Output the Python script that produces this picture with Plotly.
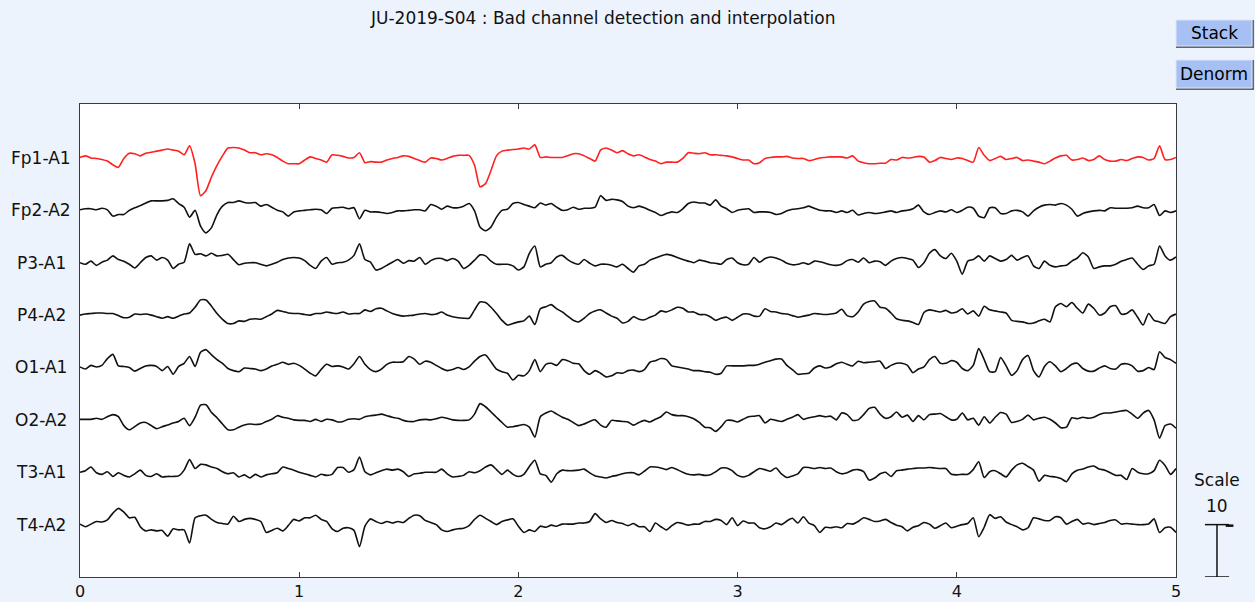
import numpy as np
import plotly.graph_objects as go

# ---- recording: 5 s of 8 referential EEG channels, 40 samples per second ----
channels = ["Fp1-A1", "Fp2-A2", "P3-A1", "P4-A2", "O1-A1", "O2-A2", "T3-A1", "T4-A2"]
bad_channel = "Fp1-A1"
time_s = np.linspace(0.0, 5.0, 201)
x_ticks = [0, 1, 2, 3, 4, 5]
scale_value = 10

fp1_a1 = [
    0.1, 0.4, 0.0, -0.1, -0.3, -0.6, -1.3, -1.8, -0.1, 0.9,
    0.8, 0.4, 0.9, 1.1, 1.3, 1.5, 1.7, 1.5, 1.3, 0.6,
    2.3, -1.1, -7.2, -6.2, -3.6, -1.4, 0.4, 1.9, 2.0, 1.9,
    1.5, 1.0, 1.0, 0.6, 0.8, 0.6, 0.1, -0.6, -1.1, -1.1,
    -1.1, -0.4, 0.2, -0.1, -0.4, -0.8, 0.6, 0.5, 0.3,
    0.0, 0.1, 1.0, -0.9, -0.7, -0.8, -0.8, -0.4, -0.1, 0.1,
    0.4, 0.3, -0.1, -0.5, -0.8, 0.0, -0.1, -0.4, -0.1, 0.3,
    0.5, 0.5, 0.5, -1.4, -5.5, -4.9, -2.4, 0.4, 1.3, 1.5,
    1.6, 1.7, 1.9, 1.7, 2.5, 0.1, 0.2, 0.1, 0.1, 0.1,
    0.4, 0.8, 0.8, 0.4, -0.1, -0.6, 1.5, 1.9, 1.5,
    1.0, 1.4, 0.8, 0.4, 0.6, 0.2, -0.3, -0.6, -1.1, -0.8,
    -0.8, -0.8, -0.1, 1.0, 0.9, 0.8, 1.0, 0.6, 0.6, 0.5,
    0.4, 0.2, -0.1, -0.4, -0.4, -1.1, -0.9, -0.1, 0.1, 0.2,
    0.2, 0.3, 0.0, -0.1, -0.1, -0.5, -0.3, 0.0, 0.1, 0.2,
    0.2, 0.2, 0.0, 0.4, -0.6, -0.9, -1.1, -1.1, -1.0,
    -1.0, -0.3, -0.4, 0.1, 0.0, 0.1, 0.3, 0.2, -0.8, -0.5,
    0.1, -0.1, -0.3, 0.0, -0.1, -0.5, -0.8, 2.0, 0.5, -0.5,
    -0.1, 0.3, -0.3, -0.1, 0.1, -0.5, -0.4, -0.6, -0.8, -1.1,
    -0.6, 0.0, 0.4, 0.5, -0.4, -0.3, 0.0, -0.5, -0.3, 0.4,
    -0.3, -0.6, -0.6, -0.3, -0.5, -0.1, 0.2, 0.1, -0.4, -0.1,
    2.3, -0.3, -0.3, 0.1,
]

fp2_a2 = [
    0.1, 0.3, 0.3, 0.1, 0.4, 0.1, -1.1, -0.8, -0.8, 0.0,
    0.5, 0.9, 1.4, 1.8, 1.8, 1.8, 1.9, 2.2, 1.3, 0.6,
    -1.3, 0.0, -3.0, -4.3, -3.3, -0.8, 0.8, 1.5, 1.5, 1.8,
    1.5, 1.4, 1.5, 0.8, 1.1, 0.6, 0.0, -0.3, -1.1, -0.3,
    -0.1, 0.0, 0.1, 0.2, 0.1, -0.6, 0.4, 0.5, 0.6,
    0.3, 0.5, -1.6, 0.0, -0.3, -0.3, -0.4, -0.6, -0.4, -0.1,
    -0.1, 0.0, 0.1, 0.1, -0.1, 1.1, 0.8, 0.2, 0.8, 0.5,
    0.5, 0.8, 1.3, -0.1, -3.2, -3.9, -3.2, -1.3, 0.0, 0.2,
    1.3, 1.5, 1.1, 0.8, 0.5, 1.4, 1.0, 1.3, 0.6, 0.0,
    0.1, 0.6, 0.2, 0.4, 0.4, 0.6, 2.8, 1.9, 2.1,
    2.0, 1.7, 0.8, 0.5, 0.8, 0.5, 0.0, -0.4, -1.0, -0.6,
    -0.3, -0.4, 0.3, 1.3, 1.6, 1.4, 1.4, 1.0, 2.0, 0.8,
    0.3, -0.4, 0.0, 0.2, 0.3, -0.4, -0.3, -0.3, -0.4, -0.8,
    -0.6, -0.1, 0.2, 0.3, 0.5, 0.8, 0.4, 0.0, -0.1, -0.1,
    -0.4, -0.1, -0.4, 0.0, -0.9, -0.6, -0.4, -0.6, -0.5,
    -0.3, -0.1, -0.4, -0.1, 0.0, 0.3, 1.0, -0.3, -0.8, -0.4,
    -0.1, -0.3, 0.1, -0.4, 0.0, 0.6, 0.4, -1.1, -1.4, 0.5,
    0.5, -0.6, -0.6, -0.1, 0.0, -0.3, -1.1, -0.1, 0.6, 1.0,
    1.1, 1.0, 1.3, 1.0, 0.2, -1.1, -0.6, -0.3, -0.1, 0.0,
    -0.1, 0.5, 0.4, 0.4, 0.4, 0.5, 0.8, 0.5, 0.5, 1.1,
    -1.0, -0.1, -0.4, -0.1,
]

p3_a1 = [
    0.0, -0.3, 0.3, -0.5, 0.1, 0.5, 1.3, 0.6, 0.3, -0.3,
    -1.0, 0.0, 1.0, 1.3, 0.5, 1.0, 0.5, -1.1, -0.3, 0.1,
    3.6, 1.6, 1.7, 1.3, 1.8, 1.3, 1.4, 1.6, 0.6, -0.4,
    -0.1, 0.0, 0.0, -0.3, -0.6, -0.3, 0.1, 0.6, 0.9, 1.0,
    0.9, 0.4, -0.5, -1.1, 0.3, 1.0, -0.3, 0.0, 0.1,
    0.5, 1.4, 3.6, 0.6, 0.1, -1.4, -1.1, -0.5, 0.1, 0.6,
    -0.1, 0.4, 0.3, 1.0, -0.3, 0.4, 0.8, 0.8, 0.4, 0.8,
    0.3, -1.1, -0.5, 0.5, 1.5, 1.3, 0.3, -0.3, -0.3, -0.3,
    -0.6, -1.4, -0.8, 1.8, 3.2, -0.8, -0.3, 0.0, 1.1, 1.4,
    0.6, 0.0, -0.3, 0.6, -0.1, -0.6, -0.3, -0.3, -0.5,
    -0.8, -0.3, -1.1, -1.8, -0.6, -0.3, 0.5, 0.9, 1.3, 1.6,
    1.4, 1.0, 0.6, 0.3, 0.0, 0.5, 0.3, 0.0, -0.1, -0.3,
    0.6, 0.9, 0.0, -0.4, -0.3, 1.0, 0.1, 0.8, 1.1, 0.9,
    0.5, -0.1, -0.4, -0.3, 0.0, -0.3, 0.3, 0.2, -0.1, -0.4,
    -0.5, -0.3, 0.4, 0.6, 0.1, 0.9, 0.0, 0.3, 0.2,
    -0.5, 0.3, 0.8, 1.0, 0.8, 0.5, -0.9, 0.0, 1.8, 2.5,
    1.3, 0.8, 1.8, 0.3, -2.2, 0.3, 0.6, 1.3, 0.3, 1.3,
    0.8, 0.3, 0.6, 1.4, 0.5, 1.0, 1.3, -0.6, -1.1, 0.3,
    -0.5, -0.8, -0.6, -0.5, 0.3, 0.9, 1.9, 1.1, -1.1, -0.8,
    -0.6, -0.6, -0.3, 0.3, 0.6, 0.9, -0.3, -1.3, -0.6, -0.3,
    3.2, 1.3, 0.5, 1.1,
]

p4_a2 = [
    0.0, 0.2, 0.3, 0.4, 0.4, 0.3, 0.3, -0.1, -0.5, -0.4,
    0.2, 0.1, 0.2, 0.0, -0.3, -0.6, -0.3, -0.6, -0.2, 0.2,
    0.4, 1.5, 2.9, 2.9, 1.7, 0.3, -0.8, -1.6, -1.6, -1.1,
    -1.2, -0.8, -0.7, -0.8, -0.3, 0.2, 0.9, 0.7, 0.4, 0.3,
    0.3, 0.1, 0.0, 0.3, 0.3, 0.6, 0.4, 0.3, 0.6,
    0.2, 0.3, 0.3, 1.0, 0.7, 1.2, 1.3, 0.8, 0.3, 0.0,
    -0.2, -0.1, 0.0, 0.2, 0.3, 0.1, 0.2, 0.6, 0.0, -0.3,
    -0.5, -0.6, -0.6, 1.0, 2.5, 2.4, 1.5, 0.3, -1.0, -1.9,
    -1.6, -1.3, -1.1, -0.2, -1.8, 1.2, 1.6, 2.0, 1.2, 0.6,
    -0.2, -1.0, -1.3, -0.6, 0.3, 0.8, 1.0, 0.4, -0.2,
    -0.6, -1.5, -1.2, -0.3, -0.8, -0.9, -0.4, 0.0, 0.8, 0.6,
    1.0, 1.5, 1.3, 0.6, 0.6, 0.1, 0.1, -0.3, -1.0, -0.6,
    -0.4, -1.0, -0.4, 0.2, 0.2, -0.2, -0.2, 1.2, 0.7, 0.6,
    0.3, 0.2, -0.1, -0.4, -0.2, 0.0, 0.3, 0.2, 0.1, 0.2,
    0.4, 1.1, -0.1, -0.3, 0.6, 2.1, 2.6, 2.7, 1.5,
    1.3, 0.4, -0.7, -1.0, -1.1, -1.4, -1.8, 0.5, 1.0, 0.8,
    0.6, 0.9, 0.4, 0.6, 1.2, 0.2, 0.8, -0.2, 1.7, 1.0,
    0.8, 0.6, 0.4, -1.0, -1.2, -1.3, -1.6, -1.5, -1.1, -0.8,
    -1.3, 1.6, 2.2, 1.6, 2.4, 1.3, 0.4, 2.1, 1.3, 0.0,
    0.4, 1.6, 1.8, 0.2, 0.3, 1.0, -0.4, -1.9, 0.3, -1.0,
    -1.3, -1.6, -0.3, 0.2,
]

o1_a1 = [
    0.1, -0.3, 0.4, 0.1, 0.4, 1.7, 2.5, 0.3, 0.2, 0.0,
    -0.7, -0.2, 0.3, 0.4, 0.2, -0.6, 0.2, -1.3, 0.2, 0.8,
    2.1, 0.2, 2.9, 3.4, 2.4, 1.5, 0.8, -0.2, -0.6, -0.8,
    -0.1, -0.2, -0.3, -0.6, -0.3, 0.3, 0.6, 1.0, 0.6, 0.8,
    0.4, -0.3, -1.1, -1.6, -0.4, 0.6, 0.2, 0.3, 0.1,
    -0.3, 0.7, 2.1, 0.6, -0.4, -0.8, -0.3, 0.6, 1.0, 1.0,
    1.1, 2.1, 1.6, 0.6, 1.2, 1.0, 0.4, -0.2, -0.6, -0.4,
    0.0, -0.4, 0.1, 1.2, 2.1, 2.4, 1.1, -0.3, -0.8, -1.1,
    -2.4, -1.5, -1.6, -0.6, 1.5, -0.8, 0.6, 0.8, 0.4, 1.5,
    1.3, 0.8, 0.7, -0.6, -1.3, -0.6, -1.1, -1.8, -1.6,
    -1.0, -1.1, -0.6, -0.5, -0.8, -0.4, 1.0, 1.3, 1.7, 1.5,
    0.3, 0.1, -0.1, -0.3, -0.6, -0.6, -0.8, -0.9, -1.3, -1.1,
    0.3, 0.3, 0.3, 0.3, 0.4, 0.4, 0.6, 1.0, 1.3, 1.6,
    1.6, 0.4, -0.4, -1.3, -1.2, -1.1, -0.1, 0.3, -0.1, 0.1,
    0.7, 1.0, 0.6, 0.3, 1.2, 0.9, 1.0, 1.1, 1.2,
    -0.2, 0.4, 0.8, 0.8, 0.4, -1.0, -0.3, 0.1, 1.5, 2.1,
    0.8, 0.8, 1.3, 1.0, -0.2, -0.6, 0.4, 3.6, 1.5, -0.8,
    -0.8, 1.9, 0.3, -1.5, -0.6, 1.5, 2.3, -0.6, -1.8, 0.2,
    1.1, 0.3, -0.8, -0.2, 0.6, 0.8, -0.2, -0.7, -0.7, -0.1,
    0.3, -0.2, -0.3, 0.6, 0.7, 0.3, -0.7, -0.6, 0.0, -0.4,
    3.0, 1.9, 1.5, 0.8,
]

o2_a2 = [
    0.1, 0.1, 0.1, 0.3, 0.1, 0.6, 1.0, 0.6, -1.1, -1.9,
    -1.3, -0.6, -0.5, -1.1, -1.7, -1.3, -1.0, -0.6, -0.3, 0.3,
    -1.1, 0.5, 2.8, 2.9, 1.4, 0.4, -0.8, -1.9, -1.9, -1.4,
    -1.0, -0.8, -0.9, -0.8, -0.3, 0.1, 0.8, 0.5, 0.3, 0.0,
    -0.1, -0.1, -0.3, 0.1, -0.3, 0.1, 0.0, -0.4, -0.3,
    0.1, 0.2, 0.1, 0.6, 0.8, 0.9, 1.1, 0.8, 0.5, 0.3,
    -0.1, -0.3, -0.3, 0.0, 0.1, 0.0, 0.2, 0.5, 0.3, 0.0,
    -0.1, -0.1, 0.0, 1.1, 3.1, 2.5, 1.5, 0.5, -0.5, -1.4,
    -1.3, -1.1, -0.9, -1.4, -3.3, 0.6, 1.3, 1.7, 1.1, 0.5,
    0.1, -0.5, -1.1, -0.8, -0.3, 0.0, -1.0, -1.4, -0.1,
    -0.2, -0.3, -0.4, -1.0, -0.5, -0.1, -0.4, 0.1, 0.6, 1.5,
    1.0, 0.8, 0.8, 0.6, 0.2, -0.5, -1.4, -1.5, -2.2, -1.3,
    -0.1, -0.1, -0.4, 0.1, 0.6, 0.7, 0.8, -0.6, 0.1, -0.1,
    -0.3, 0.1, 0.5, 1.0, 0.1, 0.4, 0.6, 0.8, 0.6, 0.7,
    0.0, 1.3, 1.0, -0.1, 0.0, 1.0, 2.2, 2.4, 1.1,
    0.3, 0.6, 1.5, 0.5, 0.9, -0.3, 0.8, 0.0, 1.0, 1.1,
    1.2, 0.6, 0.0, 0.1, 1.3, 0.0, 0.3, -1.0, 0.6, -0.6,
    0.5, 1.4, 1.1, -0.5, -0.3, 0.1, 0.9, 0.0, 0.3, 0.5,
    0.1, -0.6, -1.5, -1.4, 0.4, 0.2, 0.5, 0.3, 0.5, 1.0,
    1.3, 1.3, 1.5, 1.7, 1.8, 1.1, 0.3, 1.3, 1.8, 0.0,
    -3.5, -1.1, -0.8, -1.6,
]

t3_a1 = [
    0.0, 0.3, 1.0, -0.1, -0.4, 0.1, -0.8, -0.1, -0.6, -0.9,
    -0.3, 0.4, -0.6, -0.8, -0.3, -0.9, -0.8, -0.8, -0.7, 0.4,
    2.4, 0.7, 1.5, 1.4, 1.0, 0.7, 0.1, -0.3, -0.1, -0.9,
    -0.5, -1.1, -0.4, -0.9, -0.5, -0.3, -0.1, 1.0, 0.7, 0.4,
    0.0, -0.3, -0.6, -0.9, -0.4, -0.6, -0.4, 0.9, 0.9,
    0.0, 0.5, 2.9, 0.1, -0.5, -0.1, 0.3, 0.6, 0.4, 0.6,
    0.1, -0.8, -0.3, -0.2, 0.0, 0.0, 0.0, 0.6, -0.3, -0.9,
    -0.8, -0.6, 0.1, -0.1, 0.3, 1.0, 1.4, 0.5, -0.4, 0.4,
    -0.4, -0.8, -0.4, 1.1, 2.3, -0.3, -0.6, -1.9, -0.3, 0.4,
    0.3, 0.3, 0.4, 0.6, -0.1, -0.7, -0.9, -1.1, -0.8,
    -0.6, -0.3, -0.1, -0.1, -0.5, 0.2, 1.0, 1.0, 0.8, 0.5,
    0.9, 0.5, 0.0, -0.4, -0.5, -0.4, -0.6, -0.5, 0.1, 0.8,
    0.8, 0.3, -0.6, -0.9, -0.6, 0.1, 0.7, 0.5, 0.2, 0.8,
    -0.3, -1.0, -0.7, -0.3, 0.9, 0.9, 0.7, 0.9, 0.7, 0.8,
    0.1, -0.3, -0.1, 0.4, 0.5, 0.1, -1.5, -1.1, -0.3,
    0.0, -0.8, 0.3, 0.4, 0.6, 0.7, 0.8, 0.8, 0.9, 0.8,
    0.7, 0.7, -0.4, -0.5, -0.4, -0.4, 0.5, 2.0, -1.0, 0.1,
    0.3, -0.3, -0.9, 0.4, 1.4, 1.7, 1.1, 0.4, -1.7, -0.6,
    -0.8, -0.9, -1.2, -1.8, -0.3, 0.4, 0.6, 1.0, 1.2, 0.6,
    0.4, -0.1, -0.6, -0.6, -1.4, 0.7, 0.0, -0.3, -0.3, 0.3,
    2.3, 1.3, -0.4, 0.7,
]

t4_a2 = [
    0.1, -0.4, 0.1, 0.6, 0.5, 0.9, 2.2, 3.1, 2.4, 1.3,
    1.4, -0.4, -1.2, -1.0, -1.2, -1.1, -2.2, -0.8, -1.0, -1.0,
    -3.5, 1.3, 1.7, 1.8, 1.0, 0.4, 0.2, 0.1, 1.6, 0.6,
    1.0, 1.2, 1.0, 0.6, -1.5, -1.1, -0.7, -1.2, -0.2, 1.0,
    0.7, 1.3, 1.3, 1.8, 1.0, 0.6, -0.8, -1.3, -0.7,
    -0.6, -1.1, -4.2, -0.3, 1.1, 0.6, 0.2, 0.6, 0.3, 0.6,
    0.4, 1.2, 1.8, 1.7, 0.8, 0.4, 0.0, -1.0, -1.3, -1.0,
    -0.8, -0.7, -0.2, 1.0, 1.8, 1.2, 0.6, 0.0, 0.6, 0.9,
    1.1, -0.3, -1.5, -1.0, -1.3, -0.3, -0.5, -0.1, -0.3, 0.1,
    0.1, 0.1, 0.3, 0.3, 0.6, 2.1, 1.1, 0.4, 0.8,
    0.4, 0.2, -0.2, 0.2, -0.4, -0.4, -1.3, 0.3, -0.4, -1.0,
    -0.2, 0.4, 0.2, -0.1, 0.1, 0.1, 0.6, 0.6, 1.0, 0.8,
    0.0, 1.3, -0.2, 0.7, 0.3, 0.3, -0.6, -0.8, -0.4, 0.3,
    0.0, 0.7, 1.2, 0.3, 1.5, 0.3, -0.2, -1.5, -0.5, -0.6,
    -0.4, -0.6, 0.2, 0.1, 0.6, 1.3, 1.0, 0.6, 0.7,
    1.0, 0.4, -0.1, -0.4, -1.2, -0.5, -0.2, 0.4, 0.1, -0.7,
    -0.2, 0.3, -0.6, -0.3, 0.0, 0.2, 1.3, -2.3, -0.5, 1.9,
    1.2, 1.5, 0.5, 0.0, -0.4, -1.0, -0.6, 1.3, 1.1, 0.8,
    0.8, 1.5, 1.3, 0.1, 0.6, 1.0, 0.1, 0.3, 0.0, 0.2,
    0.4, 0.8, 0.9, 0.1, 0.2, 0.1, 0.0, 0.0, 0.1, 1.1,
    -1.5, -0.6, -0.5, -1.5,
]

signals = [fp1_a1, fp2_a2, p3_a1, p4_a2, o1_a1, o2_a2, t3_a1, t4_a2]
for name, sig in zip(channels, signals):
    assert len(sig) == len(time_s), (name, len(sig))

# ---- styling ----
FONT = "DejaVu Sans"
PAGE_BG = "#EDF3FC"
FRAME = "#3a3a3a"
BUTTON_FILL = "#A6C0F4"
spacing = scale_value                      # one scale unit block between traces
n_ch = len(channels)
y_top = spacing * n_ch + 10.3

fig = go.Figure()

for k, (name, sig) in enumerate(zip(channels, signals)):
    offset = spacing * (n_ch - k)
    color = "#FF2020" if name == bad_channel else "#111111"
    fig.add_trace(go.Scatter(
        x=time_s,
        y=np.asarray(sig) + offset,
        mode="lines",
        name=name,
        line=dict(color=color, width=1.6, shape="spline", smoothing=0.6),
        showlegend=False,
        hoverinfo="skip",
    ))
    fig.add_annotation(
        x=-0.0355, xref="paper", y=offset, yref="y",
        text=name, showarrow=False, xanchor="center", yanchor="middle",
        font=dict(family=FONT, size=17, color="#111111"),
    )

# title
fig.add_annotation(
    x=0.4763, xref="paper", y=1.1818, yref="paper",
    text="JU-2019-S04 : Bad channel detection and interpolation",
    showarrow=False, xanchor="center", yanchor="middle",
    font=dict(family=FONT, size=17, color="#111111"),
)

# "Stack" / "Denorm" buttons
shapes = []
for label, y0, y1 in [("Stack", 1.1184, 1.1776), ("Denorm", 1.0296, 1.0930)]:
    shapes.append(dict(type="rect", xref="paper", yref="paper",
                       x0=1.0, x1=1.0712, y0=y0, y1=y1,
                       fillcolor="#5f6670", line=dict(width=0), layer="above"))
    shapes.append(dict(type="rect", xref="paper", yref="paper",
                       x0=1.0, x1=1.0694, y0=y0 + 0.0042, y1=y1,
                       fillcolor=BUTTON_FILL, line=dict(color="#DDE6F8", width=1),
                       layer="above"))
    fig.add_annotation(
        x=1.0347, xref="paper", y=(y0 + y1) / 2 + 0.002, yref="paper",
        text=label, showarrow=False, xanchor="center", yanchor="middle",
        font=dict(family=FONT, size=17, color="#000000"),
    )

# amplitude scale bar, drawn in data units
bar_x = 1.0374
cap = 0.011
shapes += [
    dict(type="line", xref="paper", yref="y", x0=bar_x, x1=bar_x,
         y0=0, y1=scale_value, line=dict(color="#111111", width=1.5)),
    dict(type="line", xref="paper", yref="y", x0=bar_x - cap, x1=bar_x + cap,
         y0=0, y1=0, line=dict(color="#111111", width=1.5)),
    dict(type="line", xref="paper", yref="y", x0=bar_x - cap, x1=bar_x + cap,
         y0=scale_value, y1=scale_value, line=dict(color="#111111", width=1.5)),
    dict(type="line", xref="paper", yref="y", x0=bar_x + 0.008, x1=bar_x + 0.015,
         y0=scale_value - 0.2, y1=scale_value - 0.2, line=dict(color="#111111", width=2.5)),
]
fig.add_annotation(
    x=bar_x, xref="paper", y=scale_value + 8.5, yref="y",
    text="Scale", showarrow=False, xanchor="center", yanchor="middle",
    font=dict(family=FONT, size=17, color="#111111"),
)
fig.add_annotation(
    x=bar_x, xref="paper", y=scale_value + 3.6, yref="y",
    text=str(scale_value), showarrow=False, xanchor="center", yanchor="middle",
    font=dict(family=FONT, size=17, color="#111111"),
)

fig.update_layout(
    width=1255, height=602,
    margin=dict(l=80, r=79, t=104, b=25, autoexpand=False),
    paper_bgcolor=PAGE_BG,
    plot_bgcolor="#FFFFFF",
    shapes=shapes,
    xaxis=dict(
        range=[0, 5], tickvals=x_ticks, ticktext=[str(v) for v in x_ticks],
        ticks="inside", ticklen=5, tickcolor=FRAME, tickwidth=1,
        showline=True, linecolor=FRAME, linewidth=1.3, mirror="ticks",
        showgrid=False, zeroline=False, automargin=False,
        tickfont=dict(family=FONT, size=16, color="#111111"),
    ),
    yaxis=dict(
        range=[0, y_top], showticklabels=False, ticks="",
        showline=True, linecolor=FRAME, linewidth=1.3, mirror=True,
        showgrid=False, zeroline=False, automargin=False,
    ),
)

fig.write_html("out.html")
